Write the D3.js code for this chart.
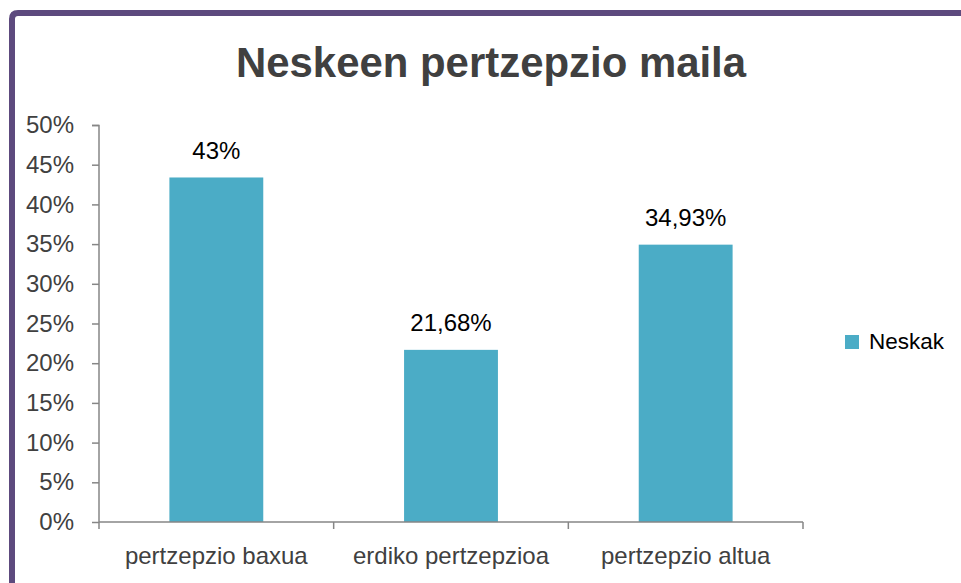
<!DOCTYPE html>
<html>
<head>
<meta charset="utf-8">
<script src="https://cdn.jsdelivr.net/npm/d3@7"></script>
<style>
html, body { margin: 0; padding: 0; background: #ffffff; }
svg { display: block; }
</style>
</head>
<body>
<script>
const title = "Neskeen pertzepzio maila";
const categories = ["pertzepzio baxua", "erdiko pertzepzioa", "pertzepzio altua"];
const values = [43.39, 21.68, 34.93];
const valueLabels = ["43%", "21,68%", "34,93%"];
const seriesName = "Neskak";
const yTicks = [0, 5, 10, 15, 20, 25, 30, 35, 40, 45, 50];

const W = 961, H = 583;
const font = "'Liberation Sans', Arial, sans-serif";
const svg = d3.select("body").append("svg").attr("width", W).attr("height", H);

svg.append("rect").attr("width", W).attr("height", H).attr("fill", "#ffffff");

// purple frame (top and left)
svg.append("path")
  .attr("d", "M12,583 L12,19 Q12,13 18,13 L961,13")
  .attr("fill", "none").attr("stroke", "#5d4a7e").attr("stroke-width", 6);

const x = d3.scaleBand().domain(categories).range([99, 803]).paddingInner(0.6).paddingOuter(0.3);
const xTicksScale = d3.scaleLinear().domain([0, categories.length]).range([99, 803]);
const y = d3.scaleLinear().domain([0, 50]).range([522, 125]);

// bars
svg.selectAll("rect.bar").data(values).enter().append("rect")
  .attr("class", "bar")
  .attr("x", (d, i) => x(categories[i]))
  .attr("width", x.bandwidth())
  .attr("y", d => y(d))
  .attr("height", d => y(0) - y(d))
  .attr("fill", "#4bacc6");

// y axis
const yAxis = d3.axisLeft(y).tickValues(yTicks).tickSize(7).tickPadding(18).tickFormat(d => d + "%");
const gy = svg.append("g").attr("transform", "translate(99,0)").call(yAxis);
gy.select(".domain").attr("stroke", "#868686").attr("stroke-width", 1.5).attr("d", "M-7,125.5H0V522");
gy.selectAll(".tick line").attr("stroke", "#868686").attr("stroke-width", 1.5);
gy.selectAll(".tick text").attr("font-family", font).attr("font-size", 24).attr("fill", "#404040");

// x axis
const gx = svg.append("g");
gx.append("line").attr("x1", 99).attr("x2", 803).attr("y1", y(0)).attr("y2", y(0))
  .attr("stroke", "#868686").attr("stroke-width", 1.5);
gx.selectAll("line.xt").data(d3.range(categories.length + 1)).enter().append("line")
  .attr("class", "xt")
  .attr("x1", d => xTicksScale(d)).attr("x2", d => xTicksScale(d))
  .attr("y1", y(0)).attr("y2", y(0) + 7)
  .attr("stroke", "#868686").attr("stroke-width", 1.5);
gx.selectAll("text.xl").data(categories).enter().append("text")
  .attr("class", "xl")
  .attr("x", d => x(d) + x.bandwidth() / 2)
  .attr("y", 564)
  .attr("text-anchor", "middle")
  .attr("font-family", font).attr("font-size", 24).attr("fill", "#404040")
  .text(d => d);

// data labels
svg.selectAll("text.vl").data(values).enter().append("text")
  .attr("class", "vl")
  .attr("x", (d, i) => x(categories[i]) + x.bandwidth() / 2)
  .attr("y", d => y(d) - 18.5)
  .attr("text-anchor", "middle")
  .attr("font-family", font).attr("font-size", 24).attr("fill", "#000000")
  .text((d, i) => valueLabels[i]);

// title
svg.append("text").attr("transform", "translate(491,77) scale(0.975,1)").attr("text-anchor", "middle")
  .attr("font-family", font).attr("font-size", 43).attr("font-weight", "bold").attr("fill", "#404040")
  .text(title);

// legend
svg.append("rect").attr("x", 845).attr("y", 335).attr("width", 14).attr("height", 14).attr("fill", "#4bacc6");
svg.append("text").attr("x", 869).attr("y", 349)
  .attr("font-family", font).attr("font-size", 22.5).attr("fill", "#000000")
  .text(seriesName);
</script>
</body>
</html>
